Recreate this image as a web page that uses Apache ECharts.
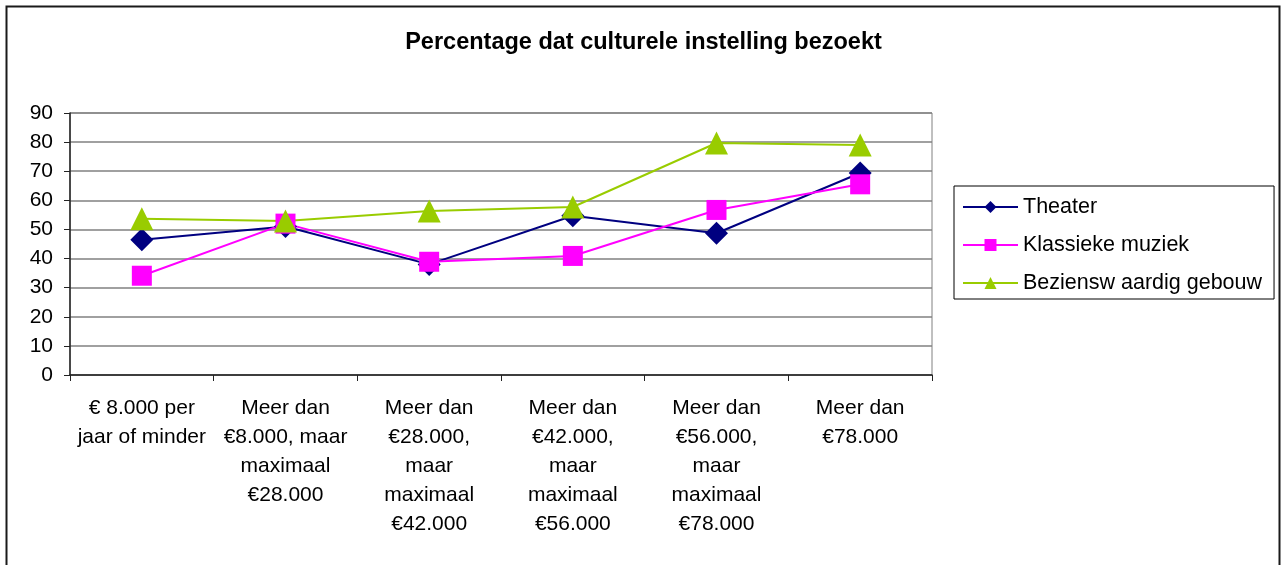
<!DOCTYPE html>
<html>
<head>
<meta charset="utf-8">
<title>Percentage dat culturele instelling bezoekt</title>
<script src="https://cdn.jsdelivr.net/npm/echarts@6/dist/echarts.min.js"></script>
<style>
  html, body { margin: 0; padding: 0; background: #ffffff; }
  #chart { width: 1287px; height: 565px; }
</style>
</head>
<body>
<div id="chart"></div>
<script>
// Income classes (x axis), line breaks as they appear under each category
const categories = [
  '€ 8.000 per\njaar of minder',
  'Meer dan\n€8.000, maar\nmaximaal\n€28.000',
  'Meer dan\n€28.000,\nmaar\nmaximaal\n€42.000',
  'Meer dan\n€42.000,\nmaar\nmaximaal\n€56.000',
  'Meer dan\n€56.000,\nmaar\nmaximaal\n€78.000',
  'Meer dan\n€78.000'
];

// Share of people visiting each kind of cultural venue (%)
const theater = [46.5, 51, 38, 54.7, 48.7, 69.4];
const klassiekeMuziek = [34.1, 52, 38.9, 40.9, 56.7, 65.5];
const bezienswaardigGebouw = [53.7, 52.9, 56.3, 57.7, 79.7, 79];

const yTicks = { min: 0, max: 90, step: 10 };

const FONT = "'Liberation Sans', Arial, Helvetica, sans-serif";

const chart = echarts.init(document.getElementById('chart'), null, { renderer: 'canvas' });

chart.setOption({
  backgroundColor: '#ffffff',
  animation: false,
  textStyle: { fontFamily: FONT, color: '#000' },
  title: {
    text: 'Percentage dat culturele instelling bezoekt',
    left: 'center',
    top: 31,
    padding: 0,
    textStyle: { fontFamily: FONT, fontSize: 23.5, fontWeight: 'bold', color: '#000' }
  },
  graphic: [{
    type: 'rect',
    shape: { x: 6.5, y: 6.5, width: 1273, height: 600 },
    style: { fill: 'none', stroke: '#1a1a1a', lineWidth: 2 },
    silent: true,
    z: -1
  }],
  legend: {
    orient: 'vertical',
    left: 954,
    top: 186,
    padding: [8, 12, 3, 8],
    itemGap: 12,
    itemWidth: 55,
    itemHeight: 15,
    backgroundColor: '#ffffff',
    borderColor: '#000000',
    borderWidth: 1,
    borderRadius: 0,
    textStyle: { fontFamily: FONT, fontSize: 21.5, color: '#000', lineHeight: 26, padding: [0, 0, 0, 0] },
    data: ['Theater', 'Klassieke muziek', 'Beziensw aardig gebouw']
  },
  grid: {
    left: 70,
    right: 355,
    top: 113,
    bottom: 190,
    show: true,
    borderColor: '#808080',
    borderWidth: 1,
    containLabel: false
  },
  xAxis: {
    type: 'category',
    data: categories,
    boundaryGap: true,
    axisLine: { show: true, lineStyle: { color: '#222', width: 1.5 } },
    axisTick: { show: true, length: 6, inside: false, lineStyle: { color: '#222', width: 1 } },
    axisLabel: {
      interval: 0,
      margin: 19,
      fontFamily: FONT,
      fontSize: 21,
      lineHeight: 29,
      color: '#000',
      align: 'center'
    },
    splitLine: { show: false }
  },
  yAxis: {
    type: 'value',
    min: yTicks.min,
    max: yTicks.max,
    interval: yTicks.step,
    axisLine: { show: true, lineStyle: { color: '#222', width: 1.5 } },
    axisTick: { show: true, length: 6, inside: false, lineStyle: { color: '#222', width: 1 } },
    axisLabel: { margin: 17, fontFamily: FONT, fontSize: 21, color: '#000' },
    splitLine: { show: true, lineStyle: { color: '#808080', width: 1.5 } }
  },
  series: [
    {
      name: 'Theater',
      type: 'line',
      data: theater,
      symbol: 'diamond',
      symbolSize: [23, 23],
      lineStyle: { color: '#000080', width: 2 },
      itemStyle: { color: '#000080' }
    },
    {
      name: 'Klassieke muziek',
      type: 'line',
      data: klassiekeMuziek,
      symbol: 'rect',
      symbolSize: 20,
      lineStyle: { color: '#ff00ff', width: 2 },
      itemStyle: { color: '#ff00ff' }
    },
    {
      name: 'Beziensw aardig gebouw',
      type: 'line',
      data: bezienswaardigGebouw,
      symbol: 'triangle',
      symbolSize: 23,
      lineStyle: { color: '#99cc00', width: 2 },
      itemStyle: { color: '#99cc00' }
    }
  ]
});
</script>
</body>
</html>
